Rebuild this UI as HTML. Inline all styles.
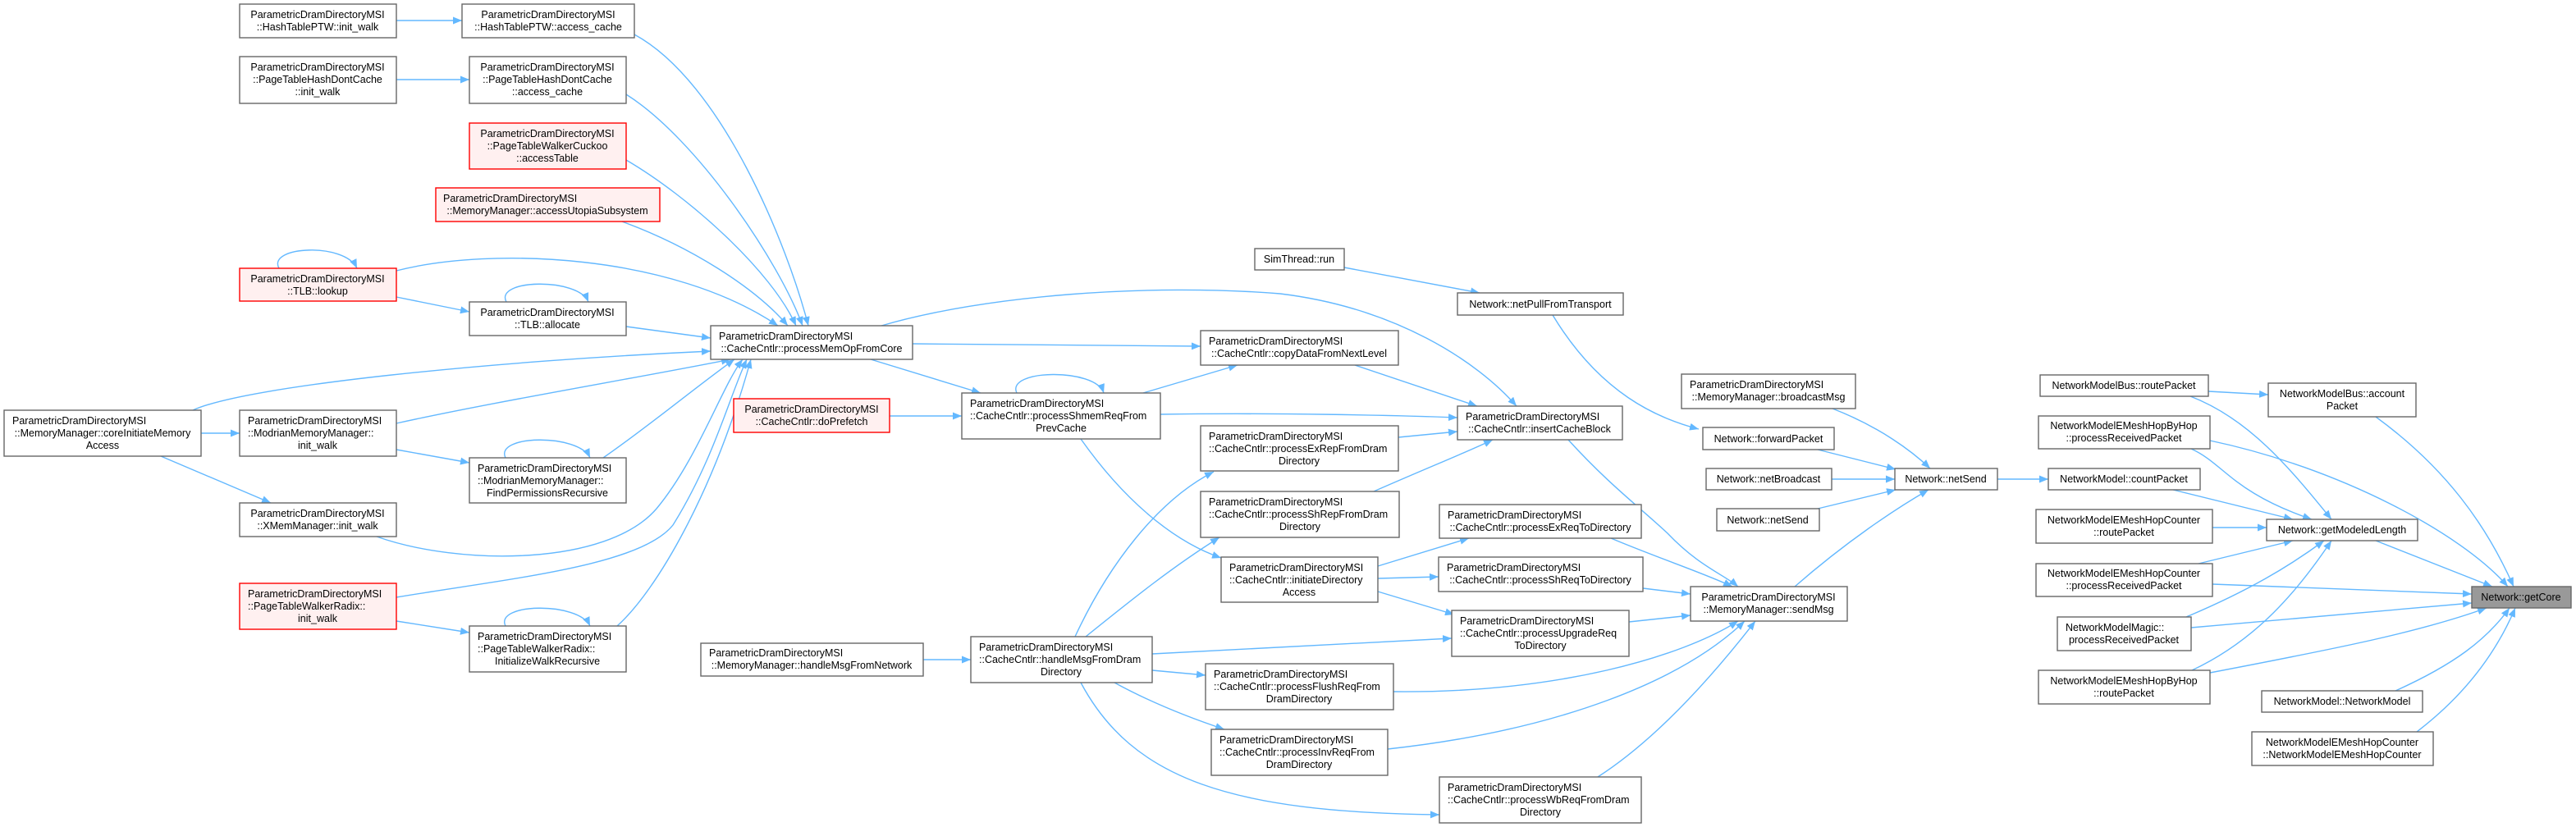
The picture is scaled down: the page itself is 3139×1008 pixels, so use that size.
<!DOCTYPE html>
<html><head><meta charset="utf-8"><style>
html,body{margin:0;padding:0;background:#fff;}
svg{display:block;}
text{font-family:"Liberation Sans",Arial,sans-serif;font-size:12.5px;fill:#000;}
.n{fill:#fff;stroke:#666;stroke-width:1.4;}
.r{fill:#fff0f0;stroke:#f00;stroke-width:1.4;}
.g{fill:#999;stroke:#666;stroke-width:1.4;}
.e{fill:none;stroke:#63b8ff;stroke-width:1.4;marker-end:url(#a);}
</style></head><body>
<svg width="3139" height="1008" viewBox="0 0 3139 1008" xmlns="http://www.w3.org/2000/svg">
<defs><marker id="a" markerUnits="userSpaceOnUse" markerWidth="11" markerHeight="9" refX="11" refY="4.5" orient="auto"><path d="M0,0 L11,4.5 L0,9 z" fill="#63b8ff"/></marker></defs>

<!-- edges -->
<path class="e" d="M483,25 L563,25"/>
<path class="e" d="M483,97 L572,97"/>
<path class="e" d="M773,42 C880,100 960,300 985,397"/>
<path class="e" d="M763,115 C850,170 950,320 978,397"/>
<path class="e" d="M763,195 C840,240 940,330 970,397"/>
<path class="e" d="M758,270 C840,300 920,350 960,397"/>
<path class="e" d="M483,330 C600,300 820,310 948,397"/>
<path class="e" d="M763,398 L866,412"/>
<path class="e" d="M235,500 C300,470 600,440 866,428"/>
<path class="e" d="M483,516 C600,490 780,460 890,438"/>
<path class="e" d="M735,558 C790,520 850,470 895,438"/>
<path class="e" d="M459,654 C560,690 740,690 800,620 C850,560 880,470 905,438"/>
<path class="e" d="M483,728 C620,705 780,690 820,640 C870,560 890,480 910,438"/>
<path class="e" d="M752,763 C800,720 870,600 915,438"/>
<path class="e" d="M483,362 L572,380"/>
<path class="e" d="M340,327 C325,300 420,295 435,327"/>
<path class="e" d="M617,368 C602,340 705,338 717,368"/>
<path class="e" d="M616,558 C602,530 705,528 719,558"/>
<path class="e" d="M616,763 C602,735 705,733 719,763"/>
<path class="e" d="M245,528 L292,528"/>
<path class="e" d="M196,556 L330,613"/>
<path class="e" d="M483,548 L572,564"/>
<path class="e" d="M483,757 L572,771"/>

<path class="e" d="M1112,419 L1463,422"/>
<path class="e" d="M1061,438 L1195,479"/>
<path class="e" d="M1074,397 C1200,360 1400,345 1560,358 C1700,375 1800,440 1848,495"/>
<path class="e" d="M1084,507 L1172,507"/>
<path class="e" d="M1239,479 C1225,450 1335,448 1345,479"/>
<path class="e" d="M1393,479 L1508,445"/>
<path class="e" d="M1414,505 C1550,503 1700,506 1776,509"/>
<path class="e" d="M1317,535 C1370,610 1430,660 1488,680"/>
<path class="e" d="M1651,445 L1800,495"/>
<path class="e" d="M1704,533 L1776,526"/>
<path class="e" d="M1674,599 C1740,570 1790,550 1819,536"/>
<path class="e" d="M1679,690 L1790,656"/>
<path class="e" d="M1679,705 L1753,703"/>
<path class="e" d="M1679,721 L1772,749"/>
<path class="e" d="M1125,804 L1183,804"/>
<path class="e" d="M1310,776 C1350,690 1410,610 1479,575"/>
<path class="e" d="M1323,776 C1380,730 1430,690 1486,655"/>
<path class="e" d="M1404,797 L1769,778"/>
<path class="e" d="M1404,817 L1469,823"/>
<path class="e" d="M1358,832 C1400,855 1450,875 1492,889"/>
<path class="e" d="M1317,832 C1380,950 1500,990 1754,993"/>

<path class="e" d="M1963,656 C2020,680 2080,700 2111,715"/>
<path class="e" d="M2002,717 L2060,724"/>
<path class="e" d="M1985,758 L2060,750"/>
<path class="e" d="M1698,843 C1900,845 2050,800 2118,757"/>
<path class="e" d="M1691,913 C1900,890 2050,830 2126,757"/>
<path class="e" d="M1947,947 C2020,900 2090,820 2139,757"/>
<path class="e" d="M1911,536 C1960,590 2000,620 2032,650 C2070,690 2100,700 2118,715"/>
<path class="e" d="M1638,326 L1803,357"/>
<path class="e" d="M1892,384 C1950,480 2020,510 2070,523"/>
<path class="e" d="M2215,548 L2310,572"/>
<path class="e" d="M2233,498 C2290,520 2330,550 2352,571"/>
<path class="e" d="M2232,584 L2309,584"/>
<path class="e" d="M2215,620 L2310,597"/>
<path class="e" d="M2187,715 C2250,660 2310,620 2350,597"/>
<path class="e" d="M2434,584 L2496,584"/>

<path class="e" d="M2691,477 L2764,481"/>
<path class="e" d="M2669,483 C2740,510 2790,570 2841,633"/>
<path class="e" d="M2670,547 C2710,565 2720,600 2817,633"/>
<path class="e" d="M2693,537 C2850,570 3000,650 3056,715"/>
<path class="e" d="M2648,597 L2794,633"/>
<path class="e" d="M2696,643 L2762,643"/>
<path class="e" d="M2679,687 L2794,659"/>
<path class="e" d="M2696,712 L3012,724"/>
<path class="e" d="M2664,752 C2740,720 2790,690 2832,659"/>
<path class="e" d="M2670,765 L3012,735"/>
<path class="e" d="M2671,817 C2750,780 2800,720 2841,659"/>
<path class="e" d="M2693,820 C2850,790 2950,770 3030,741"/>
<path class="e" d="M2895,508 C2980,570 3030,640 3063,715"/>
<path class="e" d="M2895,659 L3037,715"/>
<path class="e" d="M2919,842 C2990,810 3030,780 3058,741"/>
<path class="e" d="M2945,892 C3000,850 3040,800 3065,741"/>

<!-- nodes -->
<rect class="n" x="292" y="5" width="191" height="41"/><text x="387" y="22" text-anchor="middle">ParametricDramDirectoryMSI</text><text x="387" y="37" text-anchor="middle">::HashTablePTW::init_walk</text>
<rect class="n" x="563" y="5" width="210" height="41"/><text x="668" y="22" text-anchor="middle">ParametricDramDirectoryMSI</text><text x="668" y="37" text-anchor="middle">::HashTablePTW::access_cache</text>
<rect class="n" x="292" y="69" width="191" height="57"/><text x="387" y="86" text-anchor="middle">ParametricDramDirectoryMSI</text><text x="387" y="101" text-anchor="middle">::PageTableHashDontCache</text><text x="387" y="116" text-anchor="middle">::init_walk</text>
<rect class="n" x="572" y="69" width="191" height="57"/><text x="667" y="86" text-anchor="middle">ParametricDramDirectoryMSI</text><text x="667" y="101" text-anchor="middle">::PageTableHashDontCache</text><text x="667" y="116" text-anchor="middle">::access_cache</text>
<rect class="r" x="572" y="150" width="191" height="56"/><text x="667" y="167" text-anchor="middle">ParametricDramDirectoryMSI</text><text x="667" y="182" text-anchor="middle">::PageTableWalkerCuckoo</text><text x="667" y="197" text-anchor="middle">::accessTable</text>
<rect class="r" x="531" y="229" width="273" height="41"/><text x="540" y="246">ParametricDramDirectoryMSI</text><text x="667" y="261" text-anchor="middle">::MemoryManager::accessUtopiaSubsystem</text>
<rect class="r" x="292" y="327" width="191" height="40"/><text x="387" y="344" text-anchor="middle">ParametricDramDirectoryMSI</text><text x="387" y="359" text-anchor="middle">::TLB::lookup</text>
<rect class="n" x="572" y="368" width="191" height="41"/><text x="667" y="385" text-anchor="middle">ParametricDramDirectoryMSI</text><text x="667" y="400" text-anchor="middle">::TLB::allocate</text>
<rect class="n" x="5" y="500" width="240" height="56"/><text x="15" y="517">ParametricDramDirectoryMSI</text><text x="125" y="532" text-anchor="middle">::MemoryManager::coreInitiateMemory</text><text x="125" y="547" text-anchor="middle">Access</text>
<rect class="n" x="292" y="500" width="191" height="56"/><text x="302" y="517">ParametricDramDirectoryMSI</text><text x="302" y="532">::ModrianMemoryManager::</text><text x="387" y="547" text-anchor="middle">init_walk</text>
<rect class="n" x="572" y="558" width="191" height="55"/><text x="582" y="575">ParametricDramDirectoryMSI</text><text x="582" y="590">::ModrianMemoryManager::</text><text x="667" y="605" text-anchor="middle">FindPermissionsRecursive</text>
<rect class="n" x="292" y="613" width="191" height="41"/><text x="387" y="630" text-anchor="middle">ParametricDramDirectoryMSI</text><text x="387" y="645" text-anchor="middle">::XMemManager::init_walk</text>
<rect class="r" x="292" y="711" width="191" height="56"/><text x="302" y="728">ParametricDramDirectoryMSI</text><text x="302" y="743">::PageTableWalkerRadix::</text><text x="387" y="758" text-anchor="middle">init_walk</text>
<rect class="n" x="572" y="763" width="191" height="56"/><text x="582" y="780">ParametricDramDirectoryMSI</text><text x="582" y="795">::PageTableWalkerRadix::</text><text x="667" y="810" text-anchor="middle">InitializeWalkRecursive</text>

<rect class="n" x="866" y="397" width="246" height="41"/><text x="876" y="414">ParametricDramDirectoryMSI</text><text x="989" y="429" text-anchor="middle">::CacheCntlr::processMemOpFromCore</text>
<rect class="n" x="1463" y="403" width="241" height="42"/><text x="1473" y="420">ParametricDramDirectoryMSI</text><text x="1583" y="435" text-anchor="middle">::CacheCntlr::copyDataFromNextLevel</text>
<rect class="r" x="894" y="486" width="190" height="41"/><text x="989" y="503" text-anchor="middle">ParametricDramDirectoryMSI</text><text x="989" y="518" text-anchor="middle">::CacheCntlr::doPrefetch</text>
<rect class="n" x="1172" y="479" width="242" height="56"/><text x="1182" y="496">ParametricDramDirectoryMSI</text><text x="1182" y="511">::CacheCntlr::processShmemReqFrom</text><text x="1293" y="526" text-anchor="middle">PrevCache</text>
<rect class="n" x="1463" y="519" width="241" height="55"/><text x="1473" y="536">ParametricDramDirectoryMSI</text><text x="1473" y="551">::CacheCntlr::processExRepFromDram</text><text x="1583" y="566" text-anchor="middle">Directory</text>
<rect class="n" x="1463" y="599" width="242" height="56"/><text x="1473" y="616">ParametricDramDirectoryMSI</text><text x="1473" y="631">::CacheCntlr::processShRepFromDram</text><text x="1584" y="646" text-anchor="middle">Directory</text>
<rect class="n" x="1488" y="679" width="191" height="55"/><text x="1498" y="696">ParametricDramDirectoryMSI</text><text x="1498" y="711">::CacheCntlr::initiateDirectory</text><text x="1583" y="726" text-anchor="middle">Access</text>
<rect class="n" x="854" y="784" width="271" height="40"/><text x="864" y="800">ParametricDramDirectoryMSI</text><text x="989" y="815" text-anchor="middle">::MemoryManager::handleMsgFromNetwork</text>
<rect class="n" x="1183" y="776" width="221" height="56"/><text x="1193" y="793">ParametricDramDirectoryMSI</text><text x="1193" y="808">::CacheCntlr::handleMsgFromDram</text><text x="1293" y="823" text-anchor="middle">Directory</text>
<rect class="n" x="1469" y="809" width="229" height="56"/><text x="1479" y="826">ParametricDramDirectoryMSI</text><text x="1479" y="841">::CacheCntlr::processFlushReqFrom</text><text x="1583" y="856" text-anchor="middle">DramDirectory</text>
<rect class="n" x="1476" y="889" width="215" height="56"/><text x="1486" y="906">ParametricDramDirectoryMSI</text><text x="1486" y="921">::CacheCntlr::processInvReqFrom</text><text x="1583" y="936" text-anchor="middle">DramDirectory</text>

<rect class="n" x="1529" y="303" width="109" height="26"/><text x="1583" y="320" text-anchor="middle">SimThread::run</text>
<rect class="n" x="1776" y="357" width="202" height="27"/><text x="1877" y="375" text-anchor="middle">Network::netPullFromTransport</text>
<rect class="n" x="1776" y="495" width="201" height="41"/><text x="1786" y="512">ParametricDramDirectoryMSI</text><text x="1876" y="527" text-anchor="middle">::CacheCntlr::insertCacheBlock</text>
<rect class="n" x="2049" y="456" width="212" height="42"/><text x="2059" y="473">ParametricDramDirectoryMSI</text><text x="2155" y="488" text-anchor="middle">::MemoryManager::broadcastMsg</text>
<rect class="n" x="2075" y="521" width="160" height="27"/><text x="2155" y="539" text-anchor="middle">Network::forwardPacket</text>
<rect class="n" x="2079" y="571" width="153" height="26"/><text x="2155" y="588" text-anchor="middle">Network::netBroadcast</text>
<rect class="n" x="2092" y="620" width="125" height="27"/><text x="2154" y="638" text-anchor="middle">Network::netSend</text>
<rect class="n" x="2309" y="571" width="125" height="26"/><text x="2371" y="588" text-anchor="middle">Network::netSend</text>
<rect class="n" x="1754" y="615" width="246" height="41"/><text x="1764" y="632">ParametricDramDirectoryMSI</text><text x="1877" y="647" text-anchor="middle">::CacheCntlr::processExReqToDirectory</text>
<rect class="n" x="1753" y="679" width="249" height="42"/><text x="1763" y="696">ParametricDramDirectoryMSI</text><text x="1877" y="711" text-anchor="middle">::CacheCntlr::processShReqToDirectory</text>
<rect class="n" x="1769" y="744" width="216" height="56"/><text x="1779" y="761">ParametricDramDirectoryMSI</text><text x="1779" y="776">::CacheCntlr::processUpgradeReq</text><text x="1877" y="791" text-anchor="middle">ToDirectory</text>
<rect class="n" x="2060" y="715" width="191" height="42"/><text x="2155" y="732" text-anchor="middle">ParametricDramDirectoryMSI</text><text x="2155" y="747" text-anchor="middle">::MemoryManager::sendMsg</text>
<rect class="n" x="1754" y="947" width="246" height="56"/><text x="1764" y="964">ParametricDramDirectoryMSI</text><text x="1764" y="979">::CacheCntlr::processWbReqFromDram</text><text x="1877" y="994" text-anchor="middle">Directory</text>

<rect class="n" x="2486" y="457" width="205" height="26"/><text x="2588" y="474" text-anchor="middle">NetworkModelBus::routePacket</text>
<rect class="n" x="2764" y="467" width="180" height="41"/><text x="2854" y="484" text-anchor="middle">NetworkModelBus::account</text><text x="2854" y="499" text-anchor="middle">Packet</text>
<rect class="n" x="2484" y="507" width="209" height="40"/><text x="2588" y="523" text-anchor="middle">NetworkModelEMeshHopByHop</text><text x="2588" y="538" text-anchor="middle">::processReceivedPacket</text>
<rect class="n" x="2496" y="571" width="185" height="26"/><text x="2588" y="588" text-anchor="middle">NetworkModel::countPacket</text>
<rect class="n" x="2481" y="621" width="215" height="41"/><text x="2588" y="638" text-anchor="middle">NetworkModelEMeshHopCounter</text><text x="2588" y="653" text-anchor="middle">::routePacket</text>
<rect class="n" x="2762" y="633" width="184" height="26"/><text x="2854" y="650" text-anchor="middle">Network::getModeledLength</text>
<rect class="n" x="2481" y="687" width="215" height="40"/><text x="2588" y="703" text-anchor="middle">NetworkModelEMeshHopCounter</text><text x="2588" y="718" text-anchor="middle">::processReceivedPacket</text>
<rect class="n" x="2507" y="752" width="163" height="41"/><text x="2517" y="769">NetworkModelMagic::</text><text x="2588" y="784" text-anchor="middle">processReceivedPacket</text>
<rect class="n" x="2484" y="817" width="209" height="41"/><text x="2588" y="834" text-anchor="middle">NetworkModelEMeshHopByHop</text><text x="2588" y="849" text-anchor="middle">::routePacket</text>
<rect class="n" x="2756" y="842" width="196" height="26"/><text x="2854" y="859" text-anchor="middle">NetworkModel::NetworkModel</text>
<rect class="n" x="2744" y="892" width="221" height="41"/><text x="2854" y="909" text-anchor="middle">NetworkModelEMeshHopCounter</text><text x="2854" y="924" text-anchor="middle">::NetworkModelEMeshHopCounter</text>
<rect class="g" x="3012" y="715" width="121" height="26"/><text x="3072" y="732" text-anchor="middle">Network::getCore</text>
</svg>
</body></html>
